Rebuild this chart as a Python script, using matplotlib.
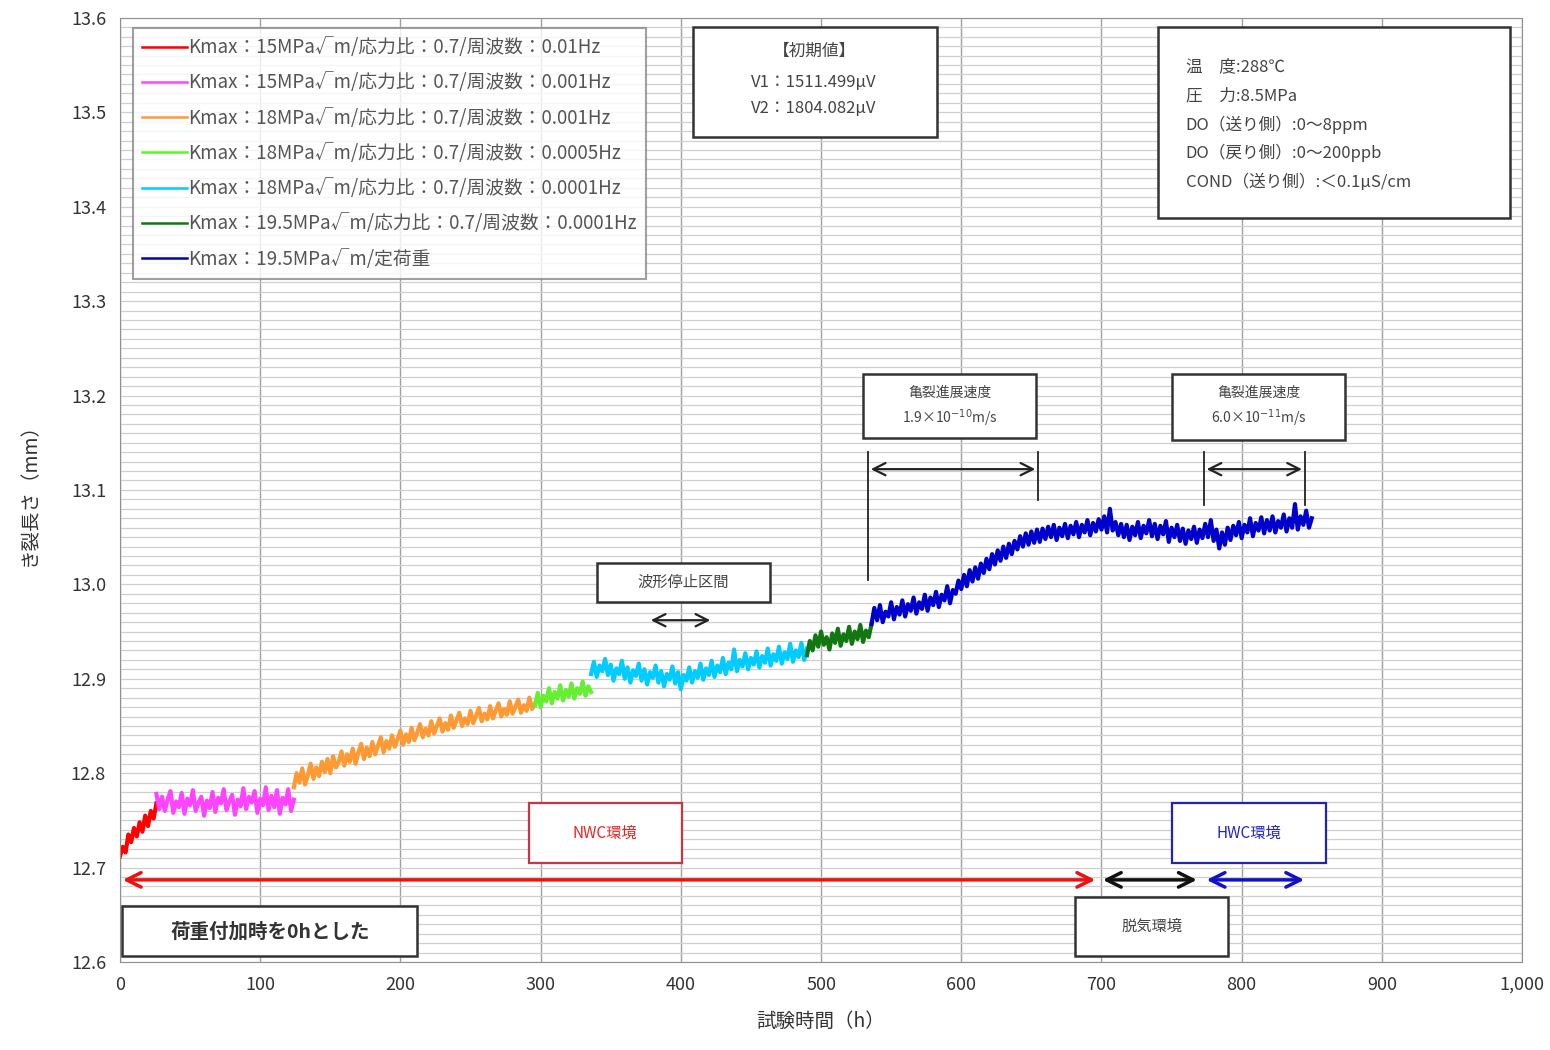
"""
Crack length vs. test time (crack growth test, NWC / deaerated / HWC).
"""

import numpy as np
import matplotlib
matplotlib.use("Agg")
import matplotlib.pyplot as plt
from matplotlib.patches import Rectangle
from matplotlib.ticker import MultipleLocator, FuncFormatter

plt.rcParams['font.family'] = ['Noto Sans CJK JP', 'DejaVu Sans']

# --- data (crack length, mm), sampled every 2 h ---------------------------
red_t = (0, 26)
red_a = [12.712, 12.722, 12.716, 12.735, 12.727, 12.742, 12.733, 12.748,
         12.738, 12.755, 12.744, 12.760, 12.752, 12.768]

magenta_t = (26, 124)
magenta_a = [12.778, 12.762, 12.775, 12.760, 12.772, 12.781, 12.758, 12.770,
             12.764, 12.779, 12.757, 12.773, 12.766, 12.782, 12.760, 12.769,
             12.775, 12.755, 12.771, 12.763, 12.780, 12.759, 12.774, 12.768,
             12.783, 12.761, 12.770, 12.777, 12.756, 12.772, 12.765, 12.784,
             12.762, 12.775, 12.769, 12.781, 12.758, 12.773, 12.766, 12.785,
             12.761, 12.776, 12.764, 12.782, 12.757, 12.774, 12.767, 12.783,
             12.760, 12.772]

orange_t = (124, 296)
orange_a = [12.785, 12.800, 12.790, 12.805, 12.788, 12.798, 12.810, 12.794,
            12.806, 12.797, 12.812, 12.801, 12.815, 12.800, 12.818, 12.806,
            12.812, 12.823, 12.808, 12.820, 12.812, 12.826, 12.810, 12.822,
            12.831, 12.815, 12.827, 12.818, 12.833, 12.820, 12.829, 12.838,
            12.822, 12.834, 12.826, 12.840, 12.828, 12.836, 12.845, 12.830,
            12.841, 12.833, 12.848, 12.835, 12.843, 12.852, 12.838, 12.847,
            12.840, 12.855, 12.842, 12.850, 12.858, 12.844, 12.853, 12.846,
            12.861, 12.848, 12.856, 12.864, 12.850, 12.858, 12.852, 12.866,
            12.853, 12.861, 12.869, 12.855, 12.863, 12.857, 12.871, 12.858,
            12.866, 12.874, 12.860, 12.868, 12.862, 12.876, 12.863, 12.870,
            12.878, 12.864, 12.872, 12.866, 12.880, 12.868, 12.874]

lgreen_t = (296, 336)
lgreen_a = [12.872, 12.885, 12.870, 12.882, 12.876, 12.890, 12.874, 12.886,
            12.879, 12.893, 12.877, 12.888, 12.881, 12.895, 12.879, 12.890,
            12.884, 12.897, 12.882, 12.892, 12.886]

cyan_t = (336, 490)
cyan_a = [12.905, 12.918, 12.902, 12.914, 12.908, 12.921, 12.904, 12.915,
          12.898, 12.911, 12.905, 12.919, 12.900, 12.912, 12.896, 12.909,
          12.903, 12.916, 12.898, 12.910, 12.894, 12.907, 12.901, 12.914,
          12.896, 12.908, 12.892, 12.905, 12.899, 12.913, 12.895, 12.907,
          12.889, 12.904, 12.898, 12.912, 12.896, 12.908, 12.901, 12.916,
          12.899, 12.911, 12.904, 12.919, 12.902, 12.914, 12.907, 12.922,
          12.905, 12.917, 12.910, 12.931, 12.908, 12.920, 12.913, 12.927,
          12.910, 12.922, 12.915, 12.929, 12.912, 12.924, 12.917, 12.932,
          12.914, 12.926, 12.919, 12.934, 12.916, 12.928, 12.921, 12.937,
          12.918, 12.930, 12.923, 12.938, 12.920, 12.932]

dgreen_t = (490, 536)
dgreen_a = [12.925, 12.940, 12.930, 12.946, 12.934, 12.950, 12.936, 12.944,
            12.931, 12.948, 12.938, 12.953, 12.935, 12.947, 12.940, 12.955,
            12.937, 12.950, 12.942, 12.957, 12.939, 12.951, 12.944, 12.958]

blue_t = (536, 850)
blue_a = [12.958, 12.975, 12.962, 12.978, 12.960, 12.971, 12.966, 12.981, 12.963, 12.976,
          12.968, 12.983, 12.966, 12.979, 12.972, 12.986, 12.969, 12.981, 12.974, 12.989,
          12.972, 12.986, 12.978, 12.992, 12.976, 12.989, 12.983, 12.998, 12.980, 12.994,
          12.990, 13.004, 12.995, 13.010, 12.998, 13.015, 13.003, 13.018, 13.006, 13.022,
          13.012, 13.027, 13.016, 13.032, 13.021, 13.036, 13.025, 13.040, 13.028, 13.043,
          13.032, 13.046, 13.037, 13.051, 13.040, 13.054, 13.042, 13.056, 13.044, 13.058,
          13.045, 13.059, 13.048, 13.061, 13.050, 13.063, 13.047, 13.060, 13.051, 13.064,
          13.049, 13.062, 13.053, 13.066, 13.050, 13.063, 13.055, 13.068, 13.052, 13.065,
          13.056, 13.069, 13.058, 13.072, 13.055, 13.080, 13.057, 13.066, 13.052, 13.064,
          13.050, 13.063, 13.047, 13.061, 13.052, 13.066, 13.049, 13.062, 13.054, 13.068,
          13.051, 13.064, 13.048, 13.062, 13.053, 13.067, 13.045, 13.060, 13.050, 13.063,
          13.046, 13.059, 13.043, 13.057, 13.048, 13.061, 13.044, 13.058, 13.049, 13.064,
          13.050, 13.068, 13.046, 13.058, 13.038, 13.055, 13.042, 13.060, 13.047, 13.062,
          13.052, 13.066, 13.049, 13.063, 13.055, 13.070, 13.051, 13.065, 13.057, 13.071,
          13.054, 13.068, 13.057, 13.072, 13.055, 13.067, 13.060, 13.074, 13.056, 13.070,
          13.060, 13.085, 13.058, 13.072, 13.063, 13.078, 13.060, 13.070]

labels = [
    'Kmax：15MPa√m/応力比：0.7/周波数：0.01Hz',
    'Kmax：15MPa√m/応力比：0.7/周波数：0.001Hz',
    'Kmax：18MPa√m/応力比：0.7/周波数：0.001Hz',
    'Kmax：18MPa√m/応力比：0.7/周波数：0.0005Hz',
    'Kmax：18MPa√m/応力比：0.7/周波数：0.0001Hz',
    'Kmax：19.5MPa√m/応力比：0.7/周波数：0.0001Hz',
    'Kmax：19.5MPa√m/定荷重',
]
colors = ['#ff0000', '#ff44ff', '#ff9933', '#66ee33', '#00ccff', '#117711', '#0000cc']
segments = [(red_t, red_a), (magenta_t, magenta_a), (orange_t, orange_a),
            (lgreen_t, lgreen_a), (cyan_t, cyan_a), (dgreen_t, dgreen_a),
            (blue_t, blue_a)]

fig = plt.figure(figsize=(15.5, 10.5), dpi=100)
ax = fig.add_axes([0.0774, 0.0838, 0.9046, 0.8992])

for (span, vals), c, lab in zip(segments, colors, labels):
    t = np.linspace(span[0], span[1], len(vals))
    ax.plot(t, vals, color=c, lw=3.0, label=lab)

ax.set_xlim(0, 1000)
ax.set_ylim(12.6, 13.6)
ax.xaxis.set_major_locator(MultipleLocator(100))
ax.yaxis.set_major_locator(MultipleLocator(0.1))
ax.yaxis.set_minor_locator(MultipleLocator(0.01))
ax.xaxis.set_major_formatter(FuncFormatter(lambda v, p: f'{v:,.0f}'))
ax.yaxis.set_major_formatter(FuncFormatter(lambda v, p: f'{v:.1f}'))
ax.grid(True, which='major', axis='x', color='#a0a0a0', lw=1.0)
ax.grid(True, which='both', axis='y', color='#cfcfcf', lw=0.9)
ax.set_axisbelow(True)
ax.tick_params(which='both', length=0, labelsize=13, colors='#333333', pad=10)
for s in ax.spines.values():
    s.set_color('#909090')

ax.set_xlabel('試験時間（h）', fontsize=14, color='#333333', labelpad=12)
ax.set_ylabel('き裂長さ（mm）', fontsize=14, color='#333333', labelpad=22)

leg = ax.legend(loc='upper left', bbox_to_anchor=(0.0093, 0.9894), fontsize=13.5,
                frameon=True, fancybox=False, edgecolor='#888888',
                handlelength=2.4, handletextpad=0.05, labelspacing=0.76,
                borderpad=0.5, borderaxespad=0)
leg.get_frame().set_linewidth(1.5)
for txt in leg.get_texts():
    txt.set_color('#555555')
for ln in leg.get_lines():
    ln.set_linewidth(1.8)


def box(x0, y0, x1, y1, edge='#333333', lw=1.8):
    ax.add_patch(Rectangle((x0, y0), x1 - x0, y1 - y0, facecolor='white',
                           edgecolor=edge, lw=lw, zorder=5))


# initial values box
box(408.5, 13.474, 583, 13.590)
ax.text(495, 13.564, '【初期値】', ha='center', va='center', fontsize=12,
        color='#444444', zorder=6)
ax.text(495, 13.532, 'V1：1511.499μV', ha='center', va='center', fontsize=12,
        color='#444444', zorder=6)
ax.text(495, 13.504, 'V2：1804.082μV', ha='center', va='center', fontsize=12,
        color='#444444', zorder=6)

# test condition box
box(740, 13.388, 991.5, 13.590)
cond = ['温　度:288℃', '圧　力:8.5MPa', 'DO（送り側）:0～8ppm',
        'DO（戻り側）:0～200ppb', 'COND（送り側）:＜0.1μS/cm']
for i, line in enumerate(cond):
    ax.text(760, 13.548 - i * 0.0305, line, ha='left', va='center',
            fontsize=12, color='#444444', zorder=6)

# crack growth rate annotations
box(530, 13.155, 653.5, 13.223)
ax.text(592, 13.203, '亀裂進展速度', ha='center', va='center', fontsize=10,
        color='#444444', zorder=6)
ax.text(592, 13.176, r'1.9×10$^{-10}$m/s', ha='center', va='center',
        fontsize=10, color='#444444', zorder=6)
ax.plot([533.5, 533.5], [13.005, 13.140], color='#222222', lw=1.3)
ax.plot([654.8, 654.8], [13.089, 13.140], color='#222222', lw=1.3)
ax.annotate('', xy=(654.8, 13.122), xytext=(533.5, 13.122),
            arrowprops=dict(arrowstyle='<->', color='#222222', lw=1.6,
                            mutation_scale=22))

box(750, 13.153, 874, 13.223)
ax.text(812, 13.203, '亀裂進展速度', ha='center', va='center', fontsize=10,
        color='#444444', zorder=6)
ax.text(812, 13.176, r'6.0×10$^{-11}$m/s', ha='center', va='center',
        fontsize=10, color='#444444', zorder=6)
ax.plot([773, 773], [13.084, 13.140], color='#222222', lw=1.3)
ax.plot([845, 845], [13.084, 13.140], color='#222222', lw=1.3)
ax.annotate('', xy=(845, 13.122), xytext=(773, 13.122),
            arrowprops=dict(arrowstyle='<->', color='#222222', lw=1.6,
                            mutation_scale=22))

# waveform stop interval
box(340, 12.981, 463.5, 13.023)
ax.text(402, 13.002, '波形停止区間', ha='center', va='center', fontsize=11,
        color='#444444', zorder=6)
ax.annotate('', xy=(423, 12.962), xytext=(376.6, 12.962),
            arrowprops=dict(arrowstyle='<->', color='#222222', lw=1.6,
                            mutation_scale=22))

# environment annotations
box(291.8, 12.705, 401, 12.768, edge='#cc3344', lw=1.6)
ax.text(346, 12.736, 'NWC環境', ha='center', va='center', fontsize=11,
        color='#ee2222', zorder=6)
box(750, 12.705, 860, 12.768, edge='#2222bb', lw=1.6)
ax.text(805, 12.736, 'HWC環境', ha='center', va='center', fontsize=11,
        color='#2222cc', zorder=6)
box(681.3, 12.606, 790.3, 12.669)
ax.text(736, 12.638, '脱気環境', ha='center', va='center', fontsize=11,
        color='#444444', zorder=6)

ax.annotate('', xy=(697.6, 12.687), xytext=(0, 12.687),
            arrowprops=dict(arrowstyle='<->', color='#ee1111', lw=2.5,
                            mutation_scale=26))
ax.annotate('', xy=(770, 12.687), xytext=(699, 12.687),
            arrowprops=dict(arrowstyle='<->', color='#111111', lw=2.5,
                            mutation_scale=26))
ax.annotate('', xy=(846.6, 12.687), xytext=(773, 12.687),
            arrowprops=dict(arrowstyle='<->', color='#1111cc', lw=2.5,
                            mutation_scale=26))

# time origin note
box(1.5, 12.606, 212, 12.659)
ax.text(107, 12.632, '荷重付加時を0hとした', ha='center', va='center',
        fontsize=14, fontweight='bold', color='#333333', zorder=6)

fig.savefig('out.png', dpi=100)
